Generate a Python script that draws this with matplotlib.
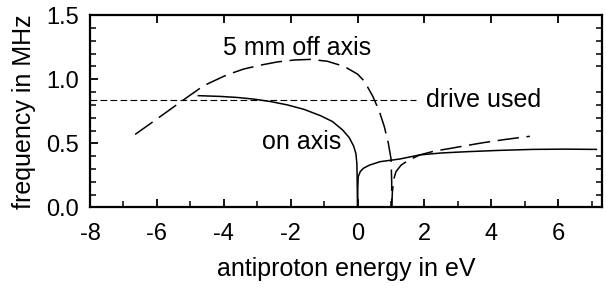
import matplotlib
matplotlib.use("Agg")
import matplotlib.pyplot as plt
from matplotlib.ticker import MultipleLocator

plt.rcParams['font.family'] = ['Liberation Sans', 'DejaVu Sans']
plt.rcParams['axes.unicode_minus'] = False

# on axis (solid), two branches
on_left_x = [-4.76, -4.1, -3.6, -3.1, -2.6, -2.1, -1.6, -1.1, -0.75, -0.45, -0.25, -0.12, -0.05, -0.02, 0.0]
on_left_y = [0.872, 0.866, 0.858, 0.845, 0.826, 0.80, 0.765, 0.715, 0.67, 0.605, 0.545, 0.48, 0.42, 0.34, 0.0]
on_right_x = [0.0, 0.005, 0.02, 0.08, 0.17, 0.35, 0.67, 1.26, 1.86, 2.5, 3.26, 4.2, 5.24, 6.2, 7.14]
on_right_y = [0.0, 0.15, 0.24, 0.28, 0.305, 0.33, 0.357, 0.378, 0.41, 0.425, 0.435, 0.445, 0.453, 0.455, 0.453]

# 5 mm off axis (dashed), two branches
off_left_x = [-6.65, -6.0, -5.2, -4.6, -3.9, -3.4, -2.9, -2.4, -1.9, -1.4, -0.9, -0.4, 0.0, 0.2,
              0.45, 0.65, 0.8, 0.92, 1.0, 1.02, 1.02]
off_left_y = [0.57, 0.69, 0.84, 0.95, 1.035, 1.08, 1.11, 1.135, 1.15, 1.155, 1.14, 1.1, 1.04, 0.985,
              0.87, 0.75, 0.63, 0.5, 0.38, 0.2, 0.0]
off_right_x = [1.02, 1.04, 1.08, 1.15, 1.3, 1.5, 1.86, 2.3, 2.76, 3.3, 3.75, 4.4, 5.15]
off_right_y = [0.0, 0.12, 0.22, 0.28, 0.33, 0.365, 0.41, 0.44, 0.46, 0.485, 0.505, 0.53, 0.555]

drive_freq = 0.84
drive_x = [-8.0, 1.75]

fig = plt.figure(figsize=(6.06, 2.91), dpi=100)
ax = fig.add_axes([0.1485, 0.287, 0.8445, 0.661])

ax.plot(on_left_x, on_left_y, color='black', lw=1.1)
ax.plot(on_right_x, on_right_y, color='black', lw=1.1)
ax.plot(off_left_x, off_left_y, color='black', lw=1.1, dashes=(14, 5))
ax.plot(off_right_x, off_right_y, color='black', lw=1.1, dashes=(14, 5))
ax.plot(drive_x, [drive_freq, drive_freq], color='black', lw=0.8, dashes=(6, 3))

ax.text(2.05, drive_freq, 'drive used', fontsize=18, va='center', ha='left')
ax.text(-4.02, 1.243, '5 mm off axis', fontsize=18, va='center', ha='left')
ax.text(-2.87, 0.513, 'on axis', fontsize=18, va='center', ha='left')

ax.set_xlim(-8, 7.3)
ax.set_ylim(0, 1.5)
ax.xaxis.set_major_locator(MultipleLocator(2))
ax.xaxis.set_minor_locator(MultipleLocator(1))
ax.yaxis.set_major_locator(MultipleLocator(0.5))
ax.yaxis.set_minor_locator(MultipleLocator(0.1))
ax.yaxis.set_major_formatter(plt.FormatStrFormatter('%.1f'))

ax.tick_params(which='major', direction='in', length=6, width=1.3, labelsize=17,
               top=True, right=False, pad=8)
ax.tick_params(axis='x', which='major', pad=11)
ax.tick_params(which='minor', direction='in', length=4, width=1.1,
               top=False, right=True)
for s in ax.spines.values():
    s.set_linewidth(1.6)

ax.set_xlabel('antiproton energy in eV', fontsize=18, labelpad=9)
ax.set_ylabel('frequency in MHz', fontsize=18, labelpad=7)

fig.savefig('out.png', dpi=100)
